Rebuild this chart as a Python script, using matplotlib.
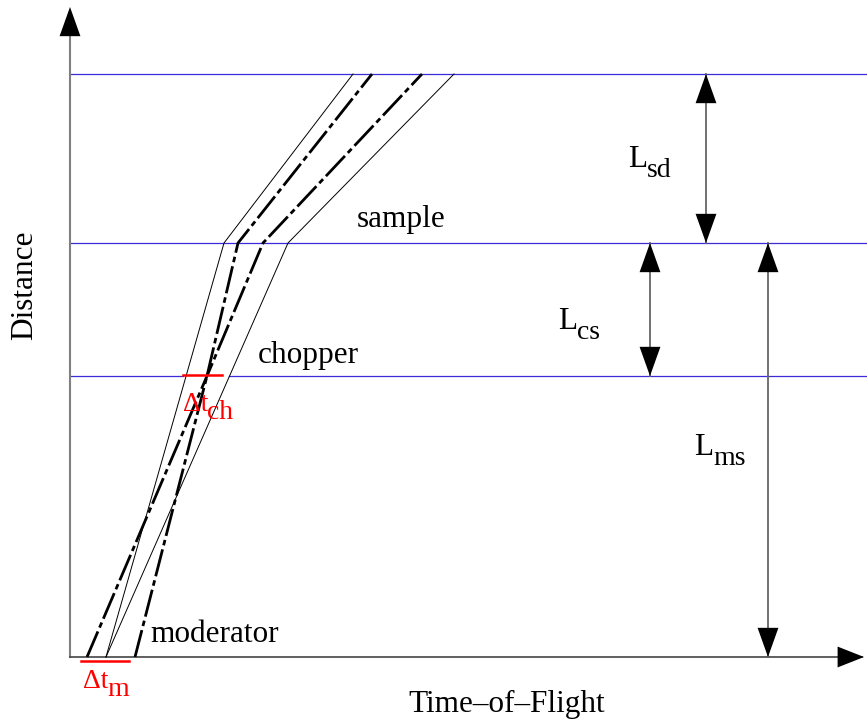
import matplotlib
matplotlib.use("Agg")
import matplotlib.pyplot as plt

plt.rcParams['font.family'] = ['Liberation Serif', 'DejaVu Serif']

# ---- data (time-of-flight units vs distance units) ----
level_names = ['moderator', 'chopper', 'sample', 'detector']
level_dist = [0, 281, 414, 583]
time_max = 797
dist_max = 650

# neutron trajectories: times at the listed distances
thin_dist = [0, 414, 583]
thin_left_t = [36, 154, 283]
thin_right_t = [36, 218, 384]
thick_dist = [0, 281, 414, 583]
thick_a_t = [17, 137, 193, 352]
thick_b_t = [65, 137, 168, 302]

# time windows
chopper_window = [113, 152]
moderator_pulse = [11, 59]
chopper_gap_end = 159

# distance markers: (time position, from distance, to distance)
lsd = (636, 414, 583)
lcs = (580, 281, 414)
lms = (698, 0, 414)

fig = plt.figure(figsize=(8.67, 7.22), dpi=100)
ax = fig.add_axes([0, 0, 1, 1])
ax.set_xlim(-70, 797)
ax.set_ylim(-65, 657)
ax.axis('off')

blue = '#3b2bd9'
fs = 22.5
fs_sub = 20

# level lines
ax.plot([0, time_max], [level_dist[3]] * 2, color=blue, lw=0.9)
ax.plot([0, time_max], [level_dist[2]] * 2, color=blue, lw=0.9)
ax.plot([0, chopper_window[0]], [level_dist[1]] * 2, color=blue, lw=0.9)
ax.plot([chopper_gap_end, time_max], [level_dist[1]] * 2, color=blue, lw=0.9)

# axes with arrows
ax.plot([0, 0], [0, dist_max - 20], color='#808080', lw=1.5)
ax.plot([0, time_max - 5], [0, 0], color='#444444', lw=1.2)
ax.annotate('', xy=(0, dist_max), xytext=(0, dist_max - 29),
            arrowprops=dict(arrowstyle='-|>,head_length=2.1,head_width=0.75',
                            mutation_scale=10, color='k', lw=0,
                            shrinkA=0, shrinkB=0))
ax.annotate('', xy=(time_max - 3, 0), xytext=(time_max - 30, 0),
            arrowprops=dict(arrowstyle='-|>,head_length=1.9,head_width=0.75',
                            mutation_scale=10, color='k', lw=0,
                            shrinkA=0, shrinkB=0))

# trajectories
ax.plot(thin_left_t, thin_dist, color='k', lw=0.7)
ax.plot(thin_right_t, thin_dist, color='k', lw=0.7)
dash = (0, (10, 1.5, 2, 1.5))
ax.plot(thick_a_t, thick_dist, color='k', lw=2.0, ls=dash)
ax.plot(thick_b_t, thick_dist, color='k', lw=2.0, ls=dash)

# red windows
ax.plot(chopper_window, [level_dist[1] + 1] * 2, color='red', lw=1.8)
ax.plot(moderator_pulse, [-4, -4], color='red', lw=1.8)

# distance markers
for (t, d0, d1) in (lsd, lcs, lms):
    ax.plot([t, t], [d0, d1], color='#666666', lw=1.3)
    ax.annotate('', xy=(t, d1), xytext=(t, d0),
                arrowprops=dict(arrowstyle='<|-|>,head_length=2.1,head_width=0.75',
                                mutation_scale=10, color='k', lw=0,
                                shrinkA=0, shrinkB=0))


def sublabel(x, y, main, sub, color='k', size=fs, subsize=fs_sub, gap=0, drop=10):
    t = ax.text(x, y, main, fontsize=size, color=color, ha='left', va='baseline')
    fig.canvas.draw()
    bb = t.get_window_extent()
    x1 = ax.transData.inverted().transform((bb.x1, bb.y0))[0]
    ax.text(x1 + gap, y - drop, sub, fontsize=subsize, color=color,
            ha='left', va='baseline')


# labels
ax.text(80, 15, 'moderator', fontsize=fs, ha='left', va='baseline')
ax.text(188, 294, 'chopper', fontsize=fs, ha='left', va='baseline')
ax.text(287, 430, 'sample', fontsize=fs, ha='left', va='baseline')
sublabel(558, 490, 'L', 'sd')
sublabel(488, 328, 'L', 'cs')
sublabel(624, 202, 'L', 'ms')
sublabel(113, 246, '\u0394t', 'ch', color='red', size=20, subsize=20, gap=-1, drop=8)
sublabel(13, -31, '\u0394t', 'm', color='red', size=20, subsize=20, gap=-1, drop=8)
ax.text(338, -55, 'Time\u2013of\u2013Flight', fontsize=fs, ha='left', va='baseline')
ax.text(-45, 372, 'Distance', fontsize=fs, rotation=90, ha='center', va='center')

fig.savefig('out.png', dpi=100)
